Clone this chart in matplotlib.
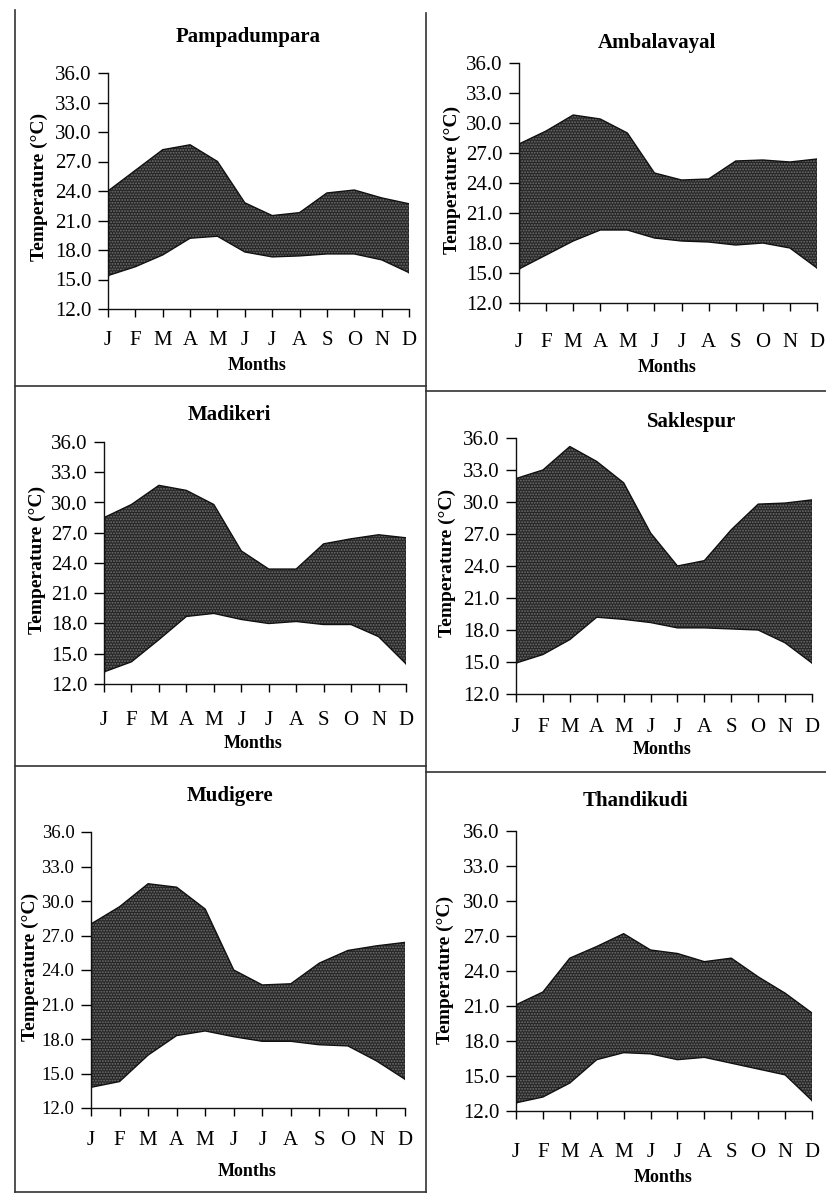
import numpy as np
import matplotlib.pyplot as plt
from matplotlib.lines import Line2D

# --- DATOS ---
meses = ["J", "F", "M", "A", "M", "J", "J", "A", "S", "O", "N", "D"]
estaciones = ["Pampadumpara", "Ambalavayal", "Madikeri", "Saklespur", "Mudigere", "Thandikudi"]

# temperatura maxima mensual (°C)
tmax_pampadumpara = [24.0, 26.1, 28.2, 28.7, 27.0, 22.8, 21.5, 21.8, 23.8, 24.1, 23.3, 22.7]
tmax_ambalavayal = [27.9, 29.2, 30.8, 30.4, 29.0, 25.0, 24.3, 24.4, 26.2, 26.3, 26.1, 26.4]
tmax_madikeri = [28.5, 29.8, 31.7, 31.2, 29.8, 25.2, 23.4, 23.4, 25.9, 26.4, 26.8, 26.5]
tmax_saklespur = [32.2, 33.0, 35.2, 33.8, 31.8, 27.1, 24.0, 24.5, 27.4, 29.8, 29.9, 30.2]
tmax_mudigere = [28.0, 29.5, 31.5, 31.2, 29.3, 24.0, 22.7, 22.8, 24.6, 25.7, 26.1, 26.4]
tmax_thandikudi = [21.1, 22.2, 25.1, 26.1, 27.2, 25.8, 25.5, 24.8, 25.1, 23.5, 22.1, 20.4]

# temperatura minima mensual (°C)
tmin_pampadumpara = [15.4, 16.3, 17.5, 19.2, 19.4, 17.8, 17.3, 17.4, 17.6, 17.6, 17.0, 15.7]
tmin_ambalavayal = [15.4, 16.8, 18.2, 19.3, 19.3, 18.5, 18.2, 18.1, 17.8, 18.0, 17.5, 15.5]
tmin_madikeri = [13.2, 14.2, 16.4, 18.7, 19.0, 18.4, 18.0, 18.2, 17.9, 17.9, 16.7, 14.0]
tmin_saklespur = [14.9, 15.7, 17.1, 19.2, 19.0, 18.7, 18.2, 18.2, 18.1, 18.0, 16.8, 14.9]
tmin_mudigere = [13.8, 14.3, 16.6, 18.3, 18.7, 18.2, 17.8, 17.8, 17.5, 17.4, 16.1, 14.5]
tmin_thandikudi = [12.7, 13.2, 14.4, 16.4, 17.0, 16.9, 16.4, 16.6, 16.1, 15.6, 15.1, 12.9]

tmax = [tmax_pampadumpara, tmax_ambalavayal, tmax_madikeri,
        tmax_saklespur, tmax_mudigere, tmax_thandikudi]
tmin = [tmin_pampadumpara, tmin_ambalavayal, tmin_madikeri,
        tmin_saklespur, tmin_mudigere, tmin_thandikudi]

yticks = np.arange(12, 37, 3)

# --- LAYOUT (pixeles de la imagen 826x1196) ---
W, H = 826, 1196
# (izq, der, arriba, abajo) de cada eje
cajas = [(108, 409, 73, 309), (519, 817, 63, 303),
         (104, 406, 442, 684), (516, 812, 438, 694),
         (91, 405, 832, 1108), (516, 812, 831, 1111)]
pos_titulo = [(248, 37), (657, 43), (229, 415), (692, 422), (230, 796), (635, 801)]
pos_months = [(257, 365), (667, 368), (253, 743), (662, 750), (247, 1172), (663, 1177)]
pos_ylabel = [(39, 187), (452, 180), (37, 560), (447, 563), (30, 967), (445, 970)]
pos_xticks = [338, 340, 718, 725, 1138, 1150]
tam_yticks = [15, 15, 15, 15, 13.5, 15]

plt.rcParams['font.family'] = ['Liberation Serif', 'DejaVu Serif']
plt.rcParams['hatch.linewidth'] = 0.9

fig = plt.figure(figsize=(W / 100, H / 100), dpi=100)
fig.patch.set_facecolor('white')

def fx(px):
    return px / W

def fy(py):
    return 1 - py / H

for i, nombre in enumerate(estaciones):
    x0, x1, y0, y1 = cajas[i]
    ax = fig.add_axes([fx(x0), fy(y1), (x1 - x0) / W, (y1 - y0) / H])
    x = np.arange(len(meses))
    ax.fill_between(x, tmin[i], tmax[i], facecolor='#262626', edgecolor='#707070',
                    hatch='......', linewidth=0)
    ax.plot(x, tmax[i], color='#111111', linewidth=1.0)
    ax.plot(x, tmin[i], color='#111111', linewidth=1.0)
    ax.plot([0, 0], [tmin[i][0], tmax[i][0]], color='#111111', linewidth=1.0)
    ax.plot([11, 11], [tmin[i][-1], tmax[i][-1]], color='#111111', linewidth=1.0)

    ax.set_xlim(0, 11)
    ax.set_ylim(12, 36)
    ax.set_yticks(yticks)
    ax.set_yticklabels([f"{v:.1f}" for v in yticks], fontsize=tam_yticks[i])
    ax.set_xticks(x)
    # pad de las etiquetas del eje x para que caigan donde en la imagen
    pad_px = pos_xticks[i] - y1 - 6 - 9
    ax.set_xticklabels(meses, fontsize=15)
    ax.tick_params(axis='x', direction='out', length=6, width=1, pad=pad_px * 0.72)
    ax.tick_params(axis='y', direction='out', length=7, width=1, pad=5)
    for s in ['top', 'right']:
        ax.spines[s].set_visible(False)
    for s in ['left', 'bottom']:
        ax.spines[s].set_linewidth(1.0)
        ax.spines[s].set_color('#111111')

    tx, ty = pos_titulo[i]
    fig.text(fx(tx), fy(ty), nombre, ha='center', va='center', fontsize=15, fontweight='bold')
    mx, my = pos_months[i]
    fig.text(fx(mx), fy(my), "Months", ha='center', va='center', fontsize=13, fontweight='bold')
    lx, ly = pos_ylabel[i]
    fig.text(fx(lx), fy(ly), "Temperature (°C)", ha='center', va='center', rotation=90,
             fontsize=14, fontweight='bold')

# --- MARCOS DE LOS PANELES ---
marcos = [((15, 15), (10, 1192)),
          ((426, 426), (13, 1192)),
          ((15, 426), (386, 386)),
          ((426, 826), (391, 391)),
          ((15, 426), (766, 766)),
          ((426, 826), (772, 772)),
          ((15, 426), (1192, 1192))]
for (xa, xb), (ya, yb) in marcos:
    fig.add_artist(Line2D([fx(xa), fx(xb)], [fy(ya), fy(yb)], color='#333333', linewidth=1.2))

plt.savefig("out.png", dpi=100)
